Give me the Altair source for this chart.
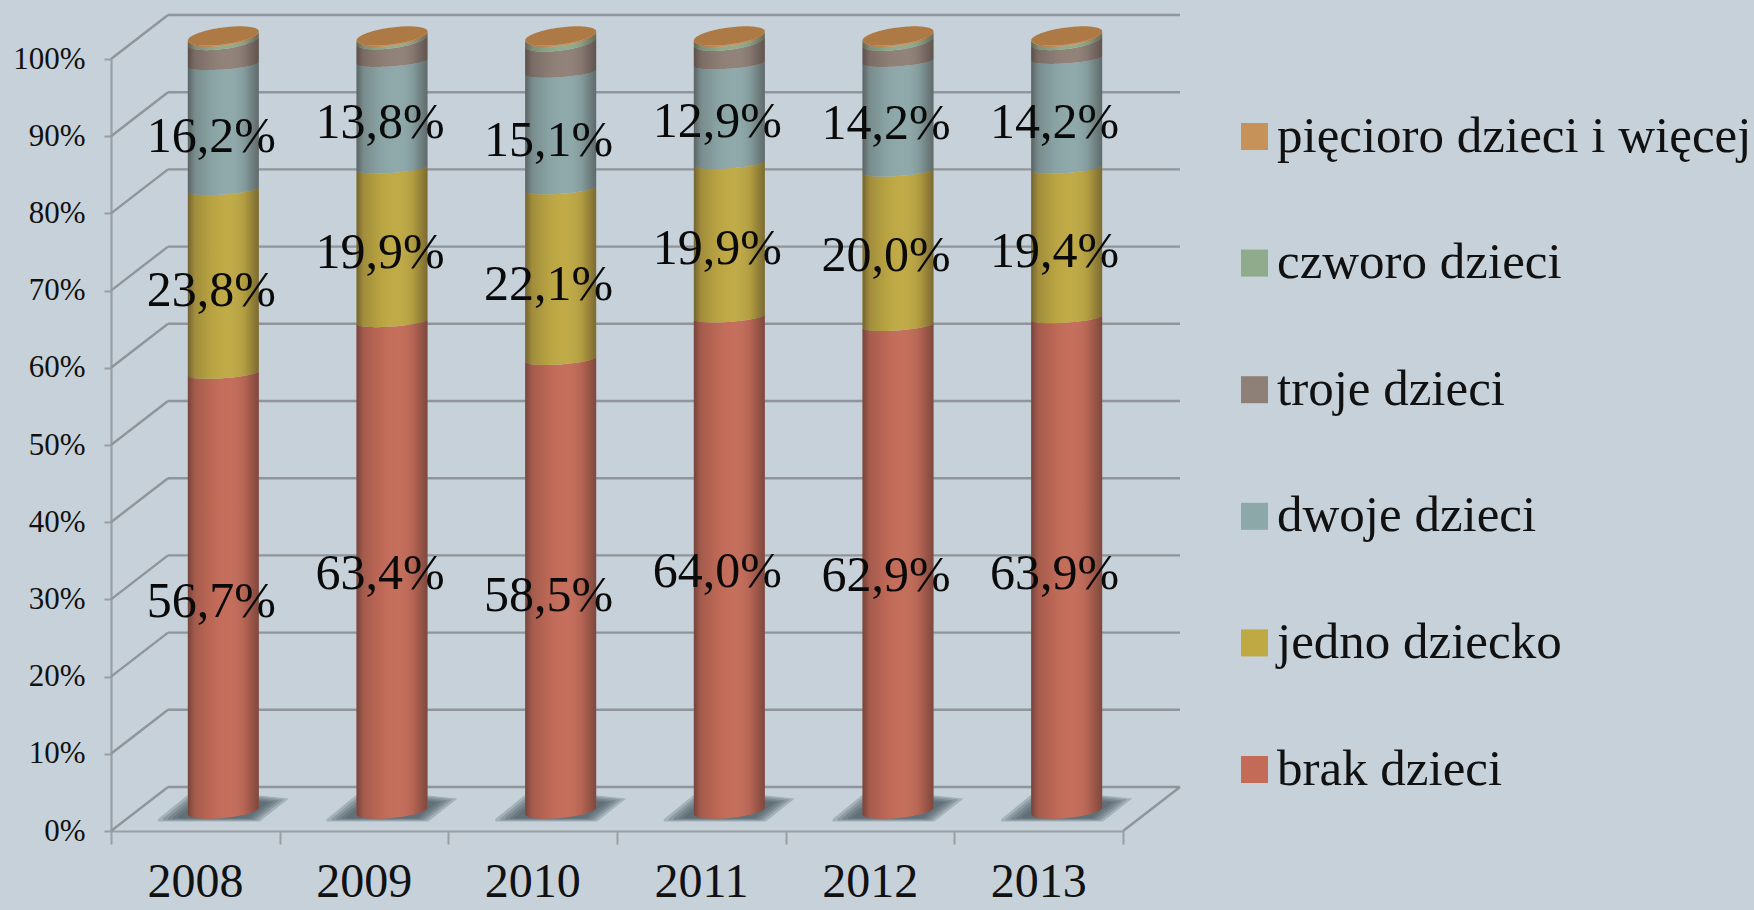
import math
import altair as alt
import pandas as pd

years = ["2008", "2009", "2010", "2011", "2012", "2013"]
series = ["brak dzieci", "jedno dziecko", "dwoje dzieci", "troje dzieci", "czworo dzieci", "pięcioro dzieci i więcej"]
brak = [56.7, 63.4, 58.5, 64.0, 62.9, 63.9]
jedno = [23.8, 19.9, 22.1, 19.9, 20.0, 19.4]
dwoje = [16.2, 13.8, 15.1, 12.9, 14.2, 14.2]
troje = [2.7, 2.4, 3.5, 2.5, 2.2, 1.9]
czworo = [0.4, 0.3, 0.6, 0.5, 0.5, 0.4]
piecioro = [0.2, 0.2, 0.2, 0.2, 0.2, 0.2]
columns = [brak, jedno, dwoje, troje, czworo, piecioro]
colors = ["#C46B58", "#BFA943", "#8DA8A9", "#8F8077", "#8FAB8B", "#C7915A"]

FONT = "Liberation Serif"
BG = "#C6D1D9"
GRID = "#8F959A"
AXIS = "#9A9FA4"

# Plot rectangle is the front plane of the box; depth is drawn past it without clipping.
PLOT_W, PLOT_H = 1012, 772
PX_X = PLOT_W / 6
PX_Y = PLOT_H / 100
DEPTH_X = 57 / PX_X
DEPTH_Y = 44 / PX_Y
LIFT = 20 / PX_Y
CENTER_SHIFT = 28 / PX_X
HALF_W = 35.5 / PX_X

levels = list(range(0, 101, 10))
xs = alt.Scale(domain=[0, 6], nice=False, zero=False)
ys = alt.Scale(domain=[0, 100], nice=False, zero=False)
x_axis = alt.Axis(
    title=None, values=list(range(7)),
    labelExpr="datum.value < 6 ? " + str(years) + "[datum.value] : ''",
    labelOffset=84, labelFont=FONT, labelFontSize=48, labelColor="#111111",
    labelPadding=14, labelAngle=0, labelBaseline="top", labelFlush=False, labelOverlap=False,
    tickSize=13, tickWidth=2, tickColor=AXIS, domainColor=AXIS, domainWidth=2.2, grid=False,
)
y_axis = alt.Axis(
    title=None, values=levels, labelExpr="datum.value + '%'",
    labelFont=FONT, labelFontSize=31, labelColor="#111111", labelPadding=19,
    tickSize=7, tickWidth=2, tickColor=AXIS, domainColor=AXIS, domainWidth=2.2, grid=False,
)
X = alt.X("x:Q", scale=xs, axis=x_axis)
Y = alt.Y("y:Q", scale=ys, axis=y_axis, stack=None)
Y2 = alt.Y2("y2:Q")

# Sample positions across a cylinder, denser near its silhouette edges.
angles = [math.pi * (1 - k / 48) for k in range(49)]
us = [math.cos(a) for a in angles]


def edge(level, u, bulge, tilt, lift=0.0):
    """Front curve of a cylinder cross-section at a given stack level."""
    return level + LIFT + lift + (tilt * u - bulge * math.sqrt(max(0.0, 1 - u * u))) / PX_Y


def boundary_style(level):
    if level == 0:
        return dict(bulge=7.0, tilt=3.4)
    if level >= 99:
        return dict(bulge=8.5, tilt=4.5, lift=0.4)
    return dict(bulge=5.0, tilt=2.5)


seg_rows, body_rows, cap_rows = [], [], []
label_rows = []
label_drop = {"2008": 10, "2009": 8, "2010": 11, "2011": 8.5, "2012": 8, "2013": 9.5}

for i, year in enumerate(years):
    cx = i + 0.5 + CENTER_SHIFT
    level = 0.0
    for name, col in zip(series, columns):
        v = col[i]
        lo, hi = round(level, 3), round(level + v, 3)
        for u in us:
            seg_rows.append({
                "year": year, "series": name, "x": cx + u * HALF_W,
                "y": edge(hi, u, **boundary_style(hi)),
                "y2": edge(lo, u, **boundary_style(lo)),
            })
        if name in series[:3]:
            label_rows.append({
                "x": cx,
                "y": (lo + hi) / 2 + LIFT - label_drop[year] / PX_Y,
                "text": f"{v:.1f}".replace(".", ",") + "%",
            })
        level = hi
    for u in us:
        body_rows.append({
            "year": year, "x": cx + u * HALF_W,
            "y": edge(100, u, **boundary_style(100)),
            "y2": edge(0, u, **boundary_style(0)),
        })
        st = boundary_style(100)
        cap_rows.append({
            "year": year, "x": cx + u * HALF_W,
            "y": edge(100, u, -st["bulge"], st["tilt"], st["lift"]),
            "y2": edge(100, u, st["bulge"], st["tilt"], st["lift"]),
        })

# Wall grid: back-wall lines plus the diagonals running back from the value axis.
grid_rows = []
for lv in levels:
    grid_rows.append({"x": DEPTH_X, "x2": 6 + DEPTH_X, "y": lv + DEPTH_Y, "y2": lv + DEPTH_Y})
    grid_rows.append({"x": 0, "x2": DEPTH_X, "y": lv, "y2": lv + DEPTH_Y})
grid_rows.append({"x": 6, "x2": 6 + DEPTH_X, "y": 0, "y2": DEPTH_Y})

# Cast shadows on the floor: nested parallelograms fake a soft edge.
shadow_shape = [(-63, 8, 10), (-35, -15, 10), (35, -15, 10), (63, -12, -12)]
shadow_rows = []
for i, year in enumerate(years):
    cx = i + 0.5 + CENTER_SHIFT
    for step, scale in enumerate([1.04, 0.96, 0.88, 0.8, 0.72]):
        for px, top, bottom in shadow_shape:
            shadow_rows.append({
                "key": f"{year}-{step}", "step": step,
                "x": cx + px * scale / PX_X,
                "y": LIFT - top * scale / PX_Y,
                "y2": LIFT - bottom * scale / PX_Y,
            })

grid = alt.Chart(pd.DataFrame(grid_rows)).mark_rule(color=GRID, strokeWidth=2.4).encode(
    x=X, x2=alt.X2("x2:Q"), y=Y, y2=Y2,
)

shadows = alt.Chart(pd.DataFrame(shadow_rows)).mark_area(color="#46545B", opacity=0.26, interpolate="linear").encode(
    x=X, y=Y, y2=Y2, detail="key:N",
)

segments = alt.Chart(pd.DataFrame(seg_rows)).mark_area(interpolate="linear").encode(
    x=X, y=Y, y2=Y2,
    detail="year:N",
    color=alt.Color(
        "series:N",
        scale=alt.Scale(domain=series[::-1], range=colors[::-1]),
        legend=alt.Legend(
            title=None, orient="none", legendX=1118, legendY=52,
            symbolType="square", symbolSize=729, symbolStrokeWidth=0, symbolOpacity=1,
            labelFont=FONT, labelFontSize=51, labelColor="#111111", labelLimit=700,
            labelOffset={"expr": "-3"},
            rowPadding=74.6, padding=0,
        ),
    ),
)

# Horizontal shading that gives the stacks their round look.
shade = alt.LinearGradient(
    gradient="linear", x1=0, x2=1, y1=0, y2=0,
    stops=[
        alt.GradientStop(color="rgba(40,30,30,0.50)", offset=0),
        alt.GradientStop(color="rgba(40,30,30,0.20)", offset=0.10),
        alt.GradientStop(color="rgba(40,30,30,0.05)", offset=0.32),
        alt.GradientStop(color="rgba(255,255,255,0.02)", offset=0.55),
        alt.GradientStop(color="rgba(40,30,30,0.10)", offset=0.80),
        alt.GradientStop(color="rgba(40,30,30,0.45)", offset=1),
    ],
)
shading = alt.Chart(pd.DataFrame(body_rows)).mark_area(color=shade, interpolate="linear").encode(
    x=X, y=Y, y2=Y2, detail="year:N",
)

caps = alt.Chart(pd.DataFrame(cap_rows)).mark_area(color="#AD7A45", interpolate="linear").encode(
    x=X, y=Y, y2=Y2, detail="year:N",
)

labels = alt.Chart(pd.DataFrame(label_rows)).mark_text(
    font=FONT, fontSize=50, color="#0A0A0A", baseline="middle", align="center", dx=-12,
).encode(x=X, y=alt.Y("y:Q", scale=ys, axis=y_axis), text="text:N")

chart = (
    alt.layer(grid, shadows, segments, shading, caps, labels)
    .properties(
        width=PLOT_W,
        height=PLOT_H,
        background=BG,
        padding={"left": 111, "top": 59, "right": 631, "bottom": 79},
        autosize=alt.AutoSizeParams(type="none"),
    )
    .configure_view(stroke=None)
)

chart.save("out.html", embed_options={"renderer": "svg", "actions": False})
